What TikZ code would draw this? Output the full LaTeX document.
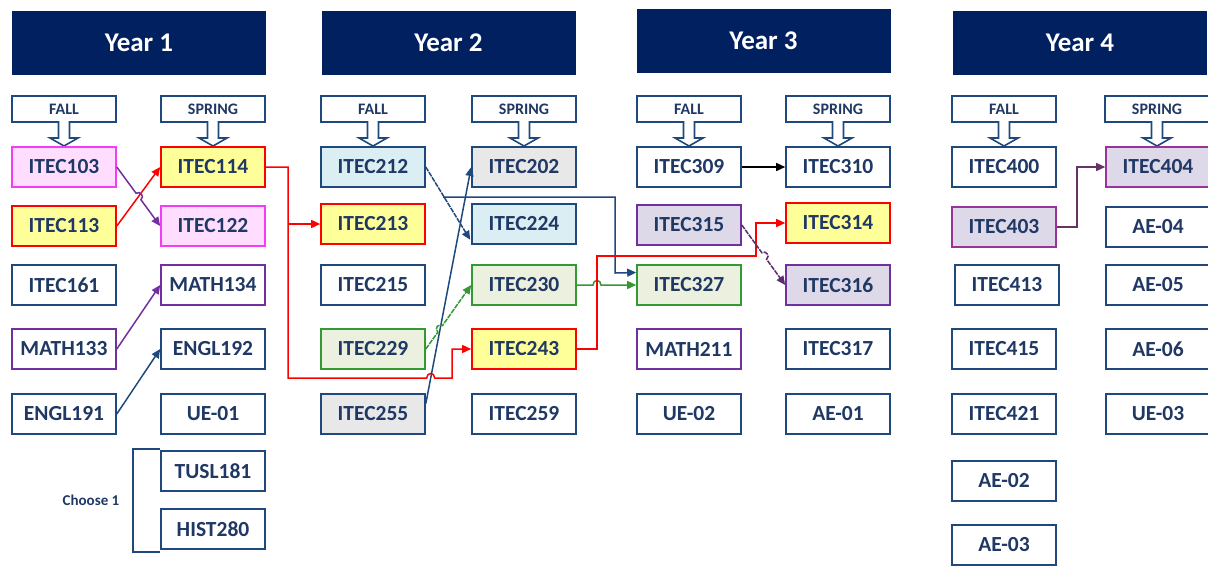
\documentclass[tikz,border=0pt]{standalone}
\usepackage{fontspec}
\setmainfont{Carlito}
\usetikzlibrary{arrows.meta,calc}

\definecolor{headnavy}{RGB}{0,32,96}
\definecolor{boxline}{RGB}{31,73,125}
\definecolor{coursetext}{RGB}{31,56,100}
\definecolor{pinkline}{RGB}{245,60,245}
\definecolor{pinkfill}{RGB}{255,221,255}
\definecolor{redline}{RGB}{255,0,0}
\definecolor{yellowfill}{RGB}{255,255,153}
\definecolor{mathline}{RGB}{112,48,160}
\definecolor{bluefill}{RGB}{218,238,243}
\definecolor{greyfill}{RGB}{232,232,232}
\definecolor{greenline}{RGB}{51,153,51}
\definecolor{greenfill}{RGB}{235,241,222}
\definecolor{lilacfill}{RGB}{221,217,232}
\definecolor{plumline}{RGB}{153,51,153}
\definecolor{darkplum}{RGB}{92,45,110}
\definecolor{plumwire}{RGB}{102,51,102}

\begin{document}
\begin{tikzpicture}[x=1pt, y=-1pt, >={Triangle[length=9pt,width=8pt]},
   year/.style={fill=headnavy, text=white, minimum width=254pt, minimum height=64pt,
                font=\bfseries\fontsize{27}{30}\selectfont},
   term/.style={draw=boxline, line width=1.6pt, fill=white, text=coursetext, inner sep=0pt,
                minimum width=104pt, minimum height=26pt, font=\bfseries\fontsize{16}{18}\selectfont},
   course/.style={draw=boxline, line width=1.6pt, fill=white, text=coursetext, inner sep=0pt,
                minimum width=104pt, minimum height=40pt, font=\bfseries\fontsize{21.5}{24}\selectfont},
   pinkbox/.style={course, draw=pinkline, fill=pinkfill},
   redbox/.style={course, draw=redline, fill=yellowfill},
   mathbox/.style={course, draw=mathline},
   bluebox/.style={course, fill=bluefill},
   greybox/.style={course, fill=greyfill},
   greenbox/.style={course, draw=greenline, fill=greenfill},
   lilacbox/.style={course, draw=mathline, fill=lilacfill},
   plumbox/.style={course, draw=plumline, fill=lilacfill},
   wire/.style={line width=1.5pt, line join=miter, ->},
   dashwire/.style={dash pattern=on 5pt off 1pt}]
   \useasboundingbox (0,0) rectangle (1208,566);

   % year headers
   \node[year] (year1) at (139,43)   {Year 1};
   \node[year] (year2) at (448.5,43) {Year 2};
   \node[year] (year3) at (763.5,40.5) {Year 3};
   \node[year] (year4) at (1080,42.5) {Year 4};

   % semesters
   \node[term] (fall1)   at (64,109)   {FALL};
   \node[term] (spring1) at (213,109)  {SPRING};
   \node[term] (fall2)   at (373,109)  {FALL};
   \node[term] (spring2) at (524,109)  {SPRING};
   \node[term] (fall3)   at (689,109)  {FALL};
   \node[term] (spring3) at (838,109)  {SPRING};
   \node[term] (fall4)   at (1004,109) {FALL};
   \node[term] (spring4) at (1157,109) {SPRING};
   \foreach \t in {fall1,spring1,fall2,spring2,fall3,spring3,fall4,spring4}
      \filldraw[draw=boxline, fill=white, line width=1.6pt, line join=miter]
         ($(\t.south)+(-5.5,-1.8)$) -- ++(0,17) -- ++(-8.5,0) -- ++(14,8)
         -- ++(14,-8) -- ++(-8.5,0) -- ++(0,-17);

   % year 1
   \node[pinkbox] (itec103) at (64,167) {ITEC103};
   \node[redbox]  (itec113) at (64,226) {ITEC113};
   \node[course]  (itec161) at (64,285) {ITEC161};
   \node[mathbox] (math133) at (64,349) {MATH133};
   \node[course]  (engl191) at (64,414) {ENGL191};
   \node[redbox]  (itec114) at (213,167) {ITEC114};
   \node[pinkbox] (itec122) at (213,226) {ITEC122};
   \node[mathbox] (math134) at (213,285) {MATH134};
   \node[course]  (engl192) at (213,349) {ENGL192};
   \node[course]  (ue01)    at (213,414) {UE-01};
   \node[course]  (tusl181) at (213,471) {TUSL181};
   \node[course]  (hist280) at (213,529) {HIST280};
   \draw[boxline, line width=1.6pt] (160,449) -| (133,552) -- (160,552);
   \node[text=coursetext, font=\bfseries\fontsize{15}{17}\selectfont] (choose) at (91,500) {Choose 1};

   % year 2
   \node[bluebox]  (itec212) at (373,167) {ITEC212};
   \node[redbox]   (itec213) at (373,224) {ITEC213};
   \node[course]   (itec215) at (373,285) {ITEC215};
   \node[greenbox] (itec229) at (373,349) {ITEC229};
   \node[greybox]  (itec255) at (373,414) {ITEC255};
   \node[greybox]  (itec202) at (524,167) {ITEC202};
   \node[bluebox]  (itec224) at (524,224) {ITEC224};
   \node[greenbox] (itec230) at (524,285) {ITEC230};
   \node[redbox]   (itec243) at (524,349) {ITEC243};
   \node[course]   (itec259) at (524,414) {ITEC259};

   % year 3
   \node[course]   (itec309) at (689,167) {ITEC309};
   \node[lilacbox] (itec315) at (689,225) {ITEC315};
   \node[greenbox] (itec327) at (689,285) {ITEC327};
   \node[mathbox]  (math211) at (689,349) {MATH211};
   \node[course]   (ue02)    at (689,414) {UE-02};
   \node[course]   (itec310) at (838,167) {ITEC310};
   \node[redbox]   (itec314) at (838,223) {ITEC314};
   \node[lilacbox] (itec316) at (838,285) {ITEC316};
   \node[course]   (itec317) at (838,349) {ITEC317};
   \node[course]   (ae01)    at (838,414) {AE-01};

   % year 4
   \node[course]  (itec400) at (1004,167) {ITEC400};
   \node[plumbox] (itec403) at (1004,227) {ITEC403};
   \node[course]  (itec413) at (1007,285) {ITEC413};
   \node[course]  (itec415) at (1004,349) {ITEC415};
   \node[course]  (itec421) at (1004,414) {ITEC421};
   \node[course]  (ae02)    at (1004,481) {AE-02};
   \node[course]  (ae03)    at (1004,545) {AE-03};
   \node[plumbox] (itec404) at (1158,167) {ITEC404};
   \node[course]  (ae04)    at (1158,227) {AE-04};
   \node[course]  (ae05)    at (1158,285) {AE-05};
   \node[course]  (ae06)    at (1158,349) {AE-06};
   \node[course]  (ue03)    at (1158,414) {UE-03};

   % prerequisites
   \coordinate (redsplit) at (288,224);
   \coordinate (navysplit) at (443,197);
   \draw[wire, redline] (itec113.east) -- (itec114.west);
   \draw[wire, mathline] (itec103.east) -- (136.1,193.3)
      .. controls (140.1,190.3) and (144.9,196.7) .. (140.9,199.7) -- (itec122.west);
   \draw[wire, mathline] (math133.east) -- (math134.west);
   \draw[wire, boxline] (engl191.east) -- (engl192.west);
   \draw[wire, redline] (itec114.east) -| (redsplit) -- (288,378) -- (426.7,378)
      .. controls (426.7,372) and (434.7,372) .. (434.7,378) -- (452,378) |- (itec243.west);
   \draw[wire, redline] (redsplit) -- (itec213.west);
   \draw[wire, boxline, dashwire] (itec212.east) -- ($(itec224.south west)+(-1,-5)$);
   \draw[wire, boxline] (navysplit) -| (615,273)
      -- ($(itec327.north west)!0.2!(itec327.south west)$);
   \draw[wire, boxline] ($(itec255.north east)!0.25!(itec255.south east)$) -- (itec202.west);
   \draw[wire, greenline, dashwire] (itec229.east) -- (437.9,332.1)
      .. controls (433.8,329.2) and (438.4,322.6) .. (442.5,325.5) -- (itec230.west);
   \draw[wire, greenline] (itec230.east) -- (593,285)
      .. controls (593,279) and (601,279) .. (601,285) -- (itec327.west);
   \draw[wire, redline] (itec243.east) -| (597,256) -- (756,256) |- (itec314.west);
   \draw[wire, darkplum, dashwire] (itec315.east) -- (761.9,252.8)
      .. controls (765.9,249.9) and (770.5,256.3) .. (766.5,259.2) -- (itec316.west);
   \draw[wire, black] (itec309.east) -- (itec310.west);
   \draw[wire, plumwire] (itec403.east) -- (1077,227) |- (itec404.west);
\end{tikzpicture}
\end{document}
